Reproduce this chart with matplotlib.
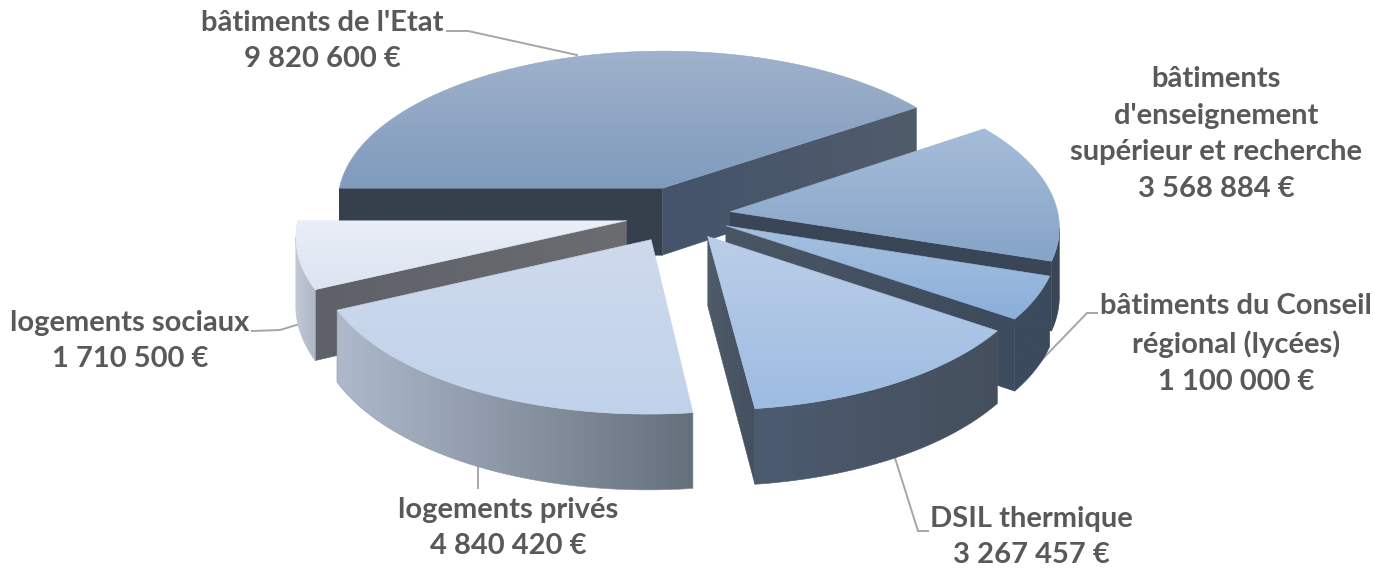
import numpy as np
import matplotlib
matplotlib.use('Agg')
import matplotlib.pyplot as plt
from matplotlib.patches import Polygon
from matplotlib.colors import to_rgb

# data, clockwise from the left of the pie
categories = ["bâtiments de l'Etat", "bâtiments\nd'enseignement\nsupérieur et recherche",
              "bâtiments du Conseil\nrégional (lycées)", "DSIL thermique",
              "logements privés", "logements sociaux"]
values = [9820600, 3568884, 1100000, 3267457, 4840420, 1710500]

# styles
explode = [0.185, 0.155, 0.155, 0.16, 0.18, 0.166]
top_col = [('#a0b2cc', '#7f9bbd'), ('#a7bdd9', '#85a4c8'), ('#a5c0de', '#8bafdb'),
           ('#bbcee8', '#9dbce2'), ('#cfdaec', '#c0d2ea'), ('#e9eef7', '#dce4f1')]
rim_col = [('#36404d', '#36404d'), ('#3a4656', '#3a4656'), ('#3b4b5f', '#3b4a5c'),
           ('#4c5b70', '#454f5c'), ('#aeb9cb', '#66707d'), ('#c2c9d5', '#aeb6c4')]
cut_start_col = [('#36404d', '#36404d'), ('#46556a', '#525d6c'), ('#3a4656', '#3a4656'),
                 ('#4f5b6b', '#3d4a5a'), ('#8a95a6', '#8a95a6'), ('#5e6169', '#6a6c70')]
cut_end_col = [('#44536a', '#515c6b'), ('#3a4656', '#3a4656'), ('#4b5664', '#3c4b5d'),
               ('#505b6a', '#44505f'), ('#8a95a6', '#8a95a6'), ('#5f6269', '#6a6c70')]
label_pos = [(322, 41), (1216, 134), (1236, 344), (1031, 537), (508, 528), (130, 341)]
leaders = [[(447, 31), (468, 31), (577, 55)],
           [],
           [(1097, 313), (1087, 313), (1032, 370)],
           [(928, 531), (918, 531), (895, 458)],
           [(478, 465), (478, 488)],
           [(252, 331), (280, 330), (303, 323)]]
draw_order = [0, 1, 2, 5, 3, 4]

CX, CY = 680, 215
B, A, H, P = 328, 154, 68, 0.09
START = 270.0

plt.rcParams['font.family'] = ['Lato', 'DejaVu Sans']
fig = plt.figure(figsize=(13.75, 5.69), dpi=100)
ax = fig.add_axes([0, 0, 1, 1])


def project(X, Y, depth=0.0):
    w = 1 - P * Y
    return np.column_stack([CX + B * X / w, CY + (A * Y + depth) / w])


def gradient_fill(poly, c0, c1, horizontal, z):
    # gradient image clipped to the polygon, edge line hides the rough clip
    c0, c1 = np.array(to_rgb(c0)), np.array(to_rgb(c1))
    t = np.linspace(0, 1, 256)[:, None]
    img = (c0 * (1 - t) + c1 * t)[:, None, :]
    if horizontal:
        img = img.transpose(1, 0, 2)
    x0, y0 = poly.min(axis=0)
    x1, y1 = poly.max(axis=0)
    im = ax.imshow(img, extent=[x0, x1, y1, y0], aspect='auto', zorder=z, interpolation='bilinear')
    patch = Polygon(poly, closed=True, facecolor='none', edgecolor='none', zorder=z)
    ax.add_patch(patch)
    im.set_clip_path(patch)
    ax.add_patch(Polygon(poly, closed=True, fill=False, zorder=z + 0.1, lw=0.4,
                         edgecolor=tuple((c0 + c1) / 2)))


def area(p):
    x, y = p[:, 0], p[:, 1]
    return 0.5 * np.sum(x * np.roll(y, -1) - np.roll(x, -1) * y)


total = sum(values)
spans = np.array(values) / total * 360
starts = START + np.concatenate([[0], np.cumsum(spans)[:-1]])

z = 1
for i in draw_order:
    t0, t1 = np.radians(starts[i]), np.radians(starts[i] + spans[i])
    mid = (t0 + t1) / 2
    ox, oy = explode[i] * np.sin(mid), -explode[i] * np.cos(mid)
    t = np.linspace(t0, t1, 160)
    X, Y = ox + np.sin(t), oy - np.cos(t)

    # cut faces, culled when they look away from the viewer
    apex_t = project(np.array([ox]), np.array([oy]))
    apex_b = project(np.array([ox]), np.array([oy]), H)
    top = project(X, Y)
    bot = project(X, Y, H)
    f_start = np.vstack([apex_t, top[0], bot[0], apex_b])
    f_end = np.vstack([top[-1], apex_t, apex_b, bot[-1]])
    if area(f_start) < 0:
        gradient_fill(f_start, *cut_start_col[i], True, z)
        z += 1
    if area(f_end) < 0:
        gradient_fill(f_end, *cut_end_col[i], True, z)
        z += 1

    # outer rim
    vis = [area(np.array([top[k], top[k + 1], bot[k + 1], bot[k]])) < 0 for k in range(len(t) - 1)]
    idx = np.where(vis)[0]
    if len(idx):
        a, b = idx[0], idx[-1] + 2
        gradient_fill(np.vstack([top[a:b], bot[a:b][::-1]]), *rim_col[i], True, z)
        z += 1

    # top surface
    gradient_fill(np.vstack([apex_t, top]), *top_col[i], False, z)
    z += 1

for pts in leaders:
    if pts:
        xs, ys = zip(*pts)
        ax.plot(xs, ys, color='#a6a6a6', lw=1.4, zorder=0.5, solid_joinstyle='miter')

for cat, v, (lx, ly) in zip(categories, values, label_pos):
    txt = cat + '\n' + f'{v:,}'.replace(',', ' ') + ' €'
    ax.text(lx, ly, txt, ha='center', va='center', fontsize=21, fontweight='bold',
            color='#595959', linespacing=1.5, zorder=z + 1)

ax.set_xlim(0, 1375)
ax.set_ylim(569, 0)
ax.axis('off')
fig.savefig('out.png', dpi=100, facecolor='white')
